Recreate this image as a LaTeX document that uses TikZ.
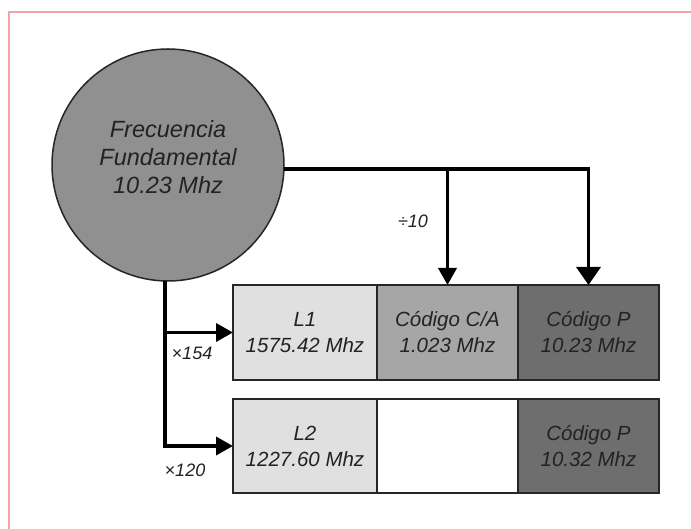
\documentclass[tikz,border=0pt]{standalone}
\usepackage{fontspec}
\setmainfont{Liberation Sans}
\usepackage{tikz}
\usetikzlibrary{arrows.meta,positioning}

\definecolor{framepink}{HTML}{F4A3AB}
\definecolor{circgray}{HTML}{909090}
\definecolor{lgray}{HTML}{E0E0E0}
\definecolor{mgray}{HTML}{A6A6A6}
\definecolor{dgray}{HTML}{6E6E6E}
\definecolor{txt}{HTML}{222222}

\tikzset{
    fbox/.style={draw=black!85, line width=1.8pt, outer sep=0pt, inner sep=0pt,
                 minimum width=141pt, minimum height=95pt, align=center,
                 text=txt, font=\fontsize{20.5}{26}\selectfont\itshape},
    conn/.style={line width=3.6pt, -{Triangle[length=17pt,width=18pt]}},
    lbl/.style={text=txt, font=\fontsize{18}{20}\selectfont\itshape}
}

\begin{document}
\begin{tikzpicture}[x=1pt, y=-1pt]
    \useasboundingbox (0,0) rectangle (691,529);
    
    % Frame
    \draw[framepink, line width=2pt] (9,529) -- (9,12) -- (691,12);
    
    % Fundamental frequency
    \node[circle, draw=black!85, line width=1.5pt, fill=circgray,
          minimum size=232pt, inner sep=0pt, outer sep=0pt, align=center,
          text=txt, font=\fontsize{23.5}{28}\selectfont\itshape]
          (fund) at (168,165) {Frecuencia\\Fundamental\\10.23 Mhz\\[-12pt]};
    
    % Row L1
    \node[fbox, fill=lgray, minimum width=144pt] (l1) at (305,332.5) {L1\\1575.42 Mhz};
    \node[fbox, fill=mgray, right=0pt of l1] (ca) {Código C/A\\1.023 Mhz};
    \node[fbox, fill=dgray, right=0pt of ca] (p1) {Código P\\10.23 Mhz};
    
    % Row L2
    \node[fbox, fill=lgray, minimum width=144pt, minimum height=94pt] (l2) at (305,446) {L2\\1227.60 Mhz};
    \node[fbox, fill=white, minimum height=94pt, right=0pt of l2] (empty) {};
    \node[fbox, fill=dgray, minimum height=94pt, right=0pt of empty] (p2) {Código P\\10.32 Mhz};
    
    % Vertical arrows
    \coordinate (jca) at (ca.north |- fund.east);
    \draw[conn, -{Triangle[length=18pt,width=24pt]}] ([yshift=-4pt]fund.east) -| (p1.north);
    \draw[conn] ([yshift=-4pt]jca) -- (ca.north);
    \node[lbl] (div) at (413,221) {÷10};
    
    % Horizontal arrows
    \coordinate (jl1) at (fund.south |- l1.west);
    \draw[conn] ([xshift=-3pt]fund.south) |- (l2.west);
    \draw[conn] ([xshift=-3pt]jl1) -- (l1.west);
    \node[lbl] (m154) at (192,353) {×154};
    \node[lbl] (m120) at (185,470) {×120};
    
\end{tikzpicture}
\end{document}
